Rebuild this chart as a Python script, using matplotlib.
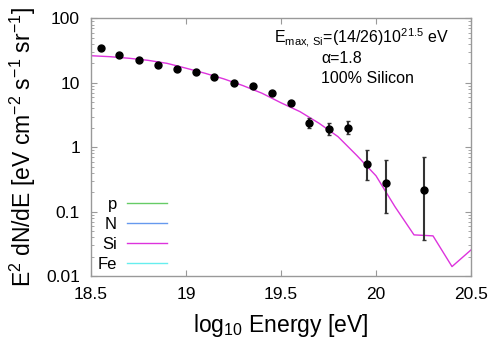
import matplotlib
matplotlib.use("Agg")
import matplotlib.pyplot as plt

# Data
data_x = [18.55, 18.65, 18.75, 18.85, 18.95, 19.05, 19.15, 19.25, 19.35,
          19.45, 19.55, 19.65, 19.75, 19.85, 19.95, 20.05, 20.25]
data_y = [34.4, 26.8, 22.4, 19.0, 16.4, 14.6, 12.4, 9.9, 8.96,
          6.97, 4.8, 2.36, 1.95, 2.01, 0.55, 0.276, 0.217]
data_hi = [34.4, 26.8, 22.4, 19.0, 16.4, 14.6, 12.4, 9.9, 8.96,
           6.97, 4.8, 2.82, 2.38, 2.54, 0.91, 0.635, 0.71]
data_lo = [34.4, 26.8, 22.4, 19.0, 16.4, 14.6, 12.4, 9.9, 8.96,
           6.97, 4.8, 1.97, 1.57, 1.59, 0.31, 0.096, 0.036]

model_x = [18.5, 18.6, 18.7, 18.8, 18.9, 19.0, 19.1, 19.2, 19.3, 19.4, 19.5,
           19.6, 19.7, 19.8, 19.9, 20.0, 20.1, 20.2, 20.3, 20.4, 20.5]
model_si = [26.4, 25.5, 24.1, 22.4, 20.1, 16.9, 14.1, 11.5, 9.06, 6.9, 4.9,
            3.57, 2.36, 1.46, 0.74, 0.36, 0.119, 0.0435, 0.042, 0.014, 0.0254]

legend_labels = ["p", "N", "Si", "Fe"]
legend_colors = ["#66cc66", "#6699ee", "#dd33dd", "#66eeee"]

x_ticks = [18.5, 19, 19.5, 20, 20.5]
x_tick_labels = ["18.5", "19", "19.5", "20", "20.5"]
y_ticks = [0.01, 0.1, 1, 10, 100]
y_tick_labels = ["0.01", "0.1", "1", "10", "100"]

plt.rcParams["font.family"] = ["Liberation Sans", "DejaVu Sans"]
plt.rcParams["mathtext.fontset"] = "custom"
plt.rcParams["mathtext.rm"] = "Liberation Sans"
plt.rcParams["mathtext.it"] = "Liberation Sans:italic"

fig = plt.figure(figsize=(5.0, 3.61), dpi=100)
ax = fig.add_axes([0.182, 0.2355, 0.76, 0.7133])

# model lines (only Si has a curve, the rest are legend entries)
for label, color in zip(legend_labels, legend_colors):
    if label == "Si":
        ax.plot(model_x, model_si, color=color, lw=1.0, label=label)
    else:
        ax.plot([], [], color=color, lw=1.0, label=label)

err_lo = [y - lo for y, lo in zip(data_y, data_lo)]
err_hi = [hi - y for y, hi in zip(data_y, data_hi)]
ax.errorbar(data_x, data_y, yerr=[err_lo, err_hi], fmt="o", color="black",
            ecolor="#333333", elinewidth=1.5, capsize=1.5, markersize=5)

ax.set_yscale("log")
ax.set_xlim(18.5, 20.5)
ax.set_ylim(0.01, 100)
ax.set_xticks(x_ticks)
ax.set_xticklabels(x_tick_labels)
ax.set_yticks(y_ticks)
ax.set_yticklabels(y_tick_labels)

ax.tick_params(which="both", direction="in", top=True, right=True,
               color="#999999", labelsize=12.5)
ax.tick_params(which="major", length=4, pad=8)
ax.tick_params(which="minor", length=2)
for s in ax.spines.values():
    s.set_color("#999999")
    s.set_linewidth(1.0)

ax.set_xlabel(r"log$_{10}$ Energy [eV]", fontsize=16.5, labelpad=7)
ax.set_ylabel(r"E$^2$ dN/dE [eV cm$^{-2}$ s$^{-1}$ sr$^{-1}$]", fontsize=16.5,
              labelpad=6)

ax.text(0.713, 0.904, r"E$_{\rm max,\,Si}$=(14/26)10$^{21.5}$ eV",
        transform=ax.transAxes, ha="center", va="baseline", fontsize=11.5)
ax.text(0.605, 0.827, "\u03b1=1.8", transform=ax.transAxes,
        ha="left", va="baseline", fontsize=11.5)
ax.text(0.605, 0.751, "100% Silicon", transform=ax.transAxes,
        ha="left", va="baseline", fontsize=11.5)

ax.legend(loc="lower left", bbox_to_anchor=(0.0, -0.01), frameon=False,
          markerfirst=False, fontsize=12, handlelength=2.4,
          labelspacing=0.3, handletextpad=0.6, borderaxespad=0.0)

fig.savefig("out.png", dpi=100)
